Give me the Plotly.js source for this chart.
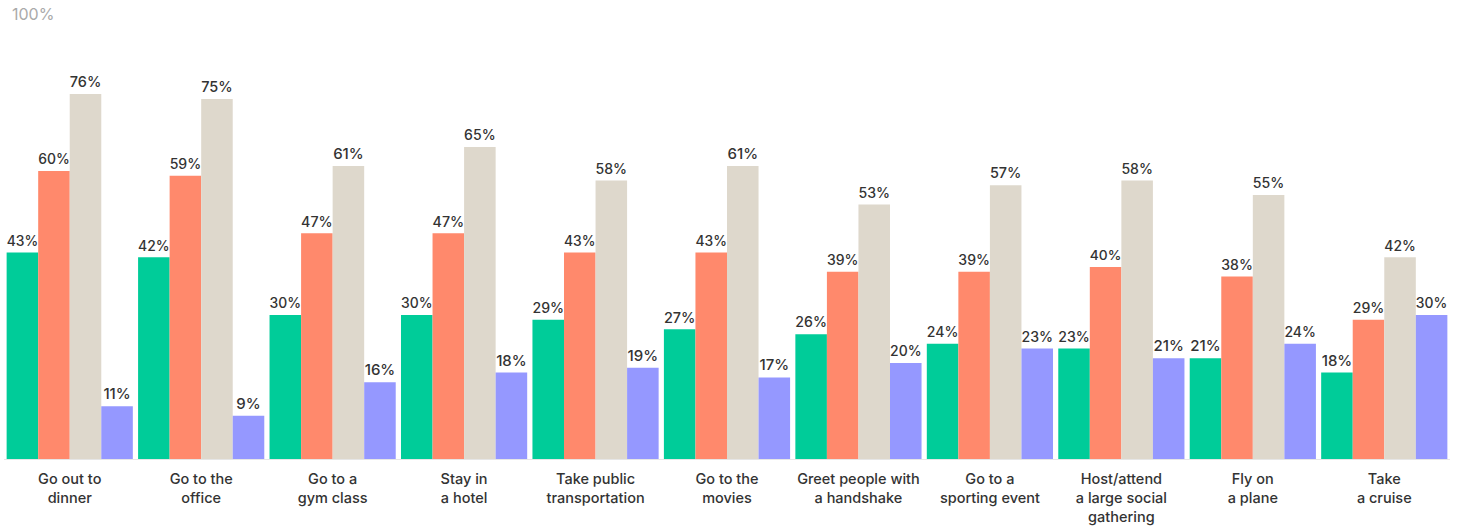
<!DOCTYPE html>
<html>
<head>
<meta charset="utf-8">
<script src="https://cdn.plot.ly/plotly-3.0.1.min.js"></script>
<style>html,body{margin:0;padding:0;background:#fff;}#chart{width:1466px;height:527px;}</style>
</head>
<body>
<div id="chart"></div>
<script>
const categories = [
  "Go out to<br>dinner",
  "Go to the<br>office",
  "Go to a<br>gym class",
  "Stay in<br>a hotel",
  "Take public<br>transportation",
  "Go to the<br>movies",
  "Greet people with<br>a handshake",
  "Go to a<br>sporting event",
  "Host/attend<br>a large social<br>gathering",
  "Fly on<br>a plane",
  "Take<br>a cruise"
];
const seriesNames = ["Series 1", "Series 2", "Series 3", "Series 4"];
const series1 = [43, 42, 30, 30, 29, 27, 26, 24, 23, 21, 18];
const series2 = [60, 59, 47, 47, 43, 43, 39, 39, 40, 38, 29];
const series3 = [76, 75, 61, 65, 58, 61, 53, 57, 58, 55, 42];
const series4 = [11, 9, 16, 18, 19, 17, 20, 23, 21, 24, 30];
const colors = ["#00CC99", "#FF896C", "#DED8CC", "#9598FF"];

const allSeries = [series1, series2, series3, series4];
const traces = allSeries.map((vals, i) => ({
  type: "bar",
  name: seriesNames[i],
  x: categories,
  y: vals,
  marker: {color: colors[i], line: {width: 0}},
  text: vals.map(v => v + "%"),
  textposition: "outside",
  cliponaxis: false,
  textfont: {family: "Inter, sans-serif", size: 15, color: "#333333", weight: 500},
  hoverinfo: "x+y"
}));

const layout = {
  width: 1466,
  height: 527,
  margin: {l: 4, r: 16, t: 0, b: 68},
  paper_bgcolor: "#ffffff",
  plot_bgcolor: "#ffffff",
  showlegend: false,
  barmode: "group",
  bargap: 0.04,
  bargroupgap: 0,
  font: {family: "Inter, sans-serif", size: 15, color: "#333333"},
  xaxis: {
    showline: true,
    linecolor: "#e6e6e6",
    linewidth: 1,
    ticks: "",
    ticklabelstandoff: 7,
    tickfont: {family: "Inter, sans-serif", size: 14.5, color: "#333333", weight: 500},
    fixedrange: true
  },
  yaxis: {
    range: [0, 95.6],
    showgrid: false,
    zeroline: false,
    showticklabels: false,
    fixedrange: true
  },
  annotations: [{
    xref: "paper", yref: "paper",
    x: 0.004, y: 1.0,
    xanchor: "left", yanchor: "top",
    yshift: -2,
    text: "100%",
    showarrow: false,
    font: {family: "Inter, sans-serif", size: 16, color: "#aaaaaa"}
  }]
};

Plotly.newPlot("chart", traces, layout, {displayModeBar: false, staticPlot: true});
</script>
</body>
</html>
